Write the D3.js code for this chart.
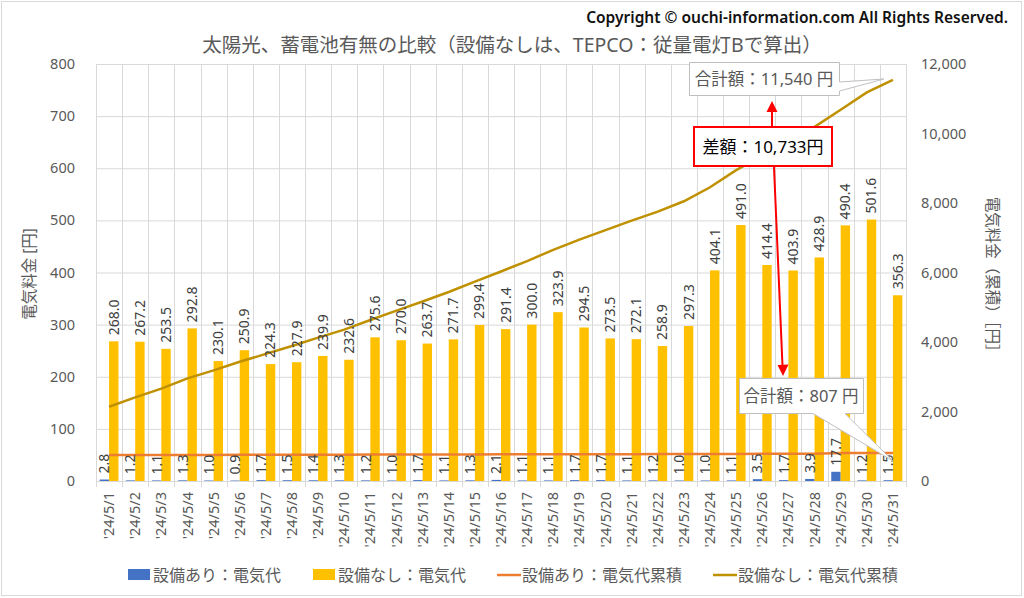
<!DOCTYPE html>
<html><head><meta charset="utf-8">
<script src="https://cdn.jsdelivr.net/npm/d3@7"></script>
<style>
html,body{margin:0;padding:0;background:#fff;}
svg{display:block;font-family:"Noto Sans","Noto Sans CJK JP",sans-serif;}
</style></head>
<body>
<svg id="c" width="1024" height="598"></svg>
<script>
const dates = ["'24/5/1","'24/5/2","'24/5/3","'24/5/4","'24/5/5","'24/5/6","'24/5/7","'24/5/8","'24/5/9","'24/5/10","'24/5/11","'24/5/12","'24/5/13","'24/5/14","'24/5/15","'24/5/16","'24/5/17","'24/5/18","'24/5/19","'24/5/20","'24/5/21","'24/5/22","'24/5/23","'24/5/24","'24/5/25","'24/5/26","'24/5/27","'24/5/28","'24/5/29","'24/5/30","'24/5/31"];
const withCost = [2.8,1.2,1.1,1.3,1.0,0.9,1.7,1.5,1.4,1.3,1.2,1.0,1.7,1.1,1.3,2.1,1.1,1.1,1.7,1.7,1.1,1.2,1.0,1.0,1.1,3.5,1.7,3.9,17.7,1.2,1.5];
const withoutCost = [268.0,267.2,253.5,292.8,230.1,250.9,224.3,227.9,239.9,232.6,275.6,270.0,263.7,271.7,299.4,291.4,300.0,323.9,294.5,273.5,272.1,258.9,297.3,404.1,491.0,414.4,403.9,428.9,490.4,501.6,356.3];
const withCum = [746.7,747.9,749.0,750.3,751.3,752.2,753.9,755.4,756.8,758.1,759.3,760.3,762.0,763.1,764.4,766.5,767.6,768.7,770.4,772.1,773.2,774.4,775.4,776.4,777.5,781.0,782.7,786.6,804.3,805.5,807.0];
const withoutCum = [2138.2,2405.4,2658.9,2951.7,3181.8,3432.7,3657.0,3884.9,4124.8,4357.4,4633.0,4903.0,5166.7,5438.4,5737.8,6029.2,6329.2,6653.1,6947.6,7221.1,7493.2,7752.1,8049.4,8453.5,8944.5,9358.9,9762.8,10191.7,10682.1,11183.7,11540.0];
const leftTicks = [0,100,200,300,400,500,600,700,800];
const rightTicks = [0,2000,4000,6000,8000,10000,12000];
const seriesNames = ["設備あり：電気代","設備なし：電気代","設備あり：電気代累積","設備なし：電気代累積"];
const titleText = "太陽光、蓄電池有無の比較（設備なしは、TEPCO：従量電灯Bで算出）";
const copyrightText = "Copyright © ouchi-information.com All Rights Reserved.";
const totalWith = 807, totalWithout = 11540, diffTotal = 10733;

const svg = d3.select("#c");
const L = 96, R = 906, T = 64, B = 481;
const x = d3.scaleBand().domain(dates).range([L, R]).padding(0);
const yL = d3.scaleLinear().domain([0, 800]).range([B, T]);
const yR = d3.scaleLinear().domain([0, 12000]).range([B, T]);
const bw = x.bandwidth() * 0.36;
const cx = d => x(d) + x.bandwidth() / 2;

// outer border
svg.append("rect").attr("x",1.5).attr("y",1.5).attr("width",1020).attr("height",594)
  .attr("fill","#fff").attr("stroke","#d9d9d9").attr("stroke-width",1);

// copyright
svg.append("text").attr("x",1008).attr("y",23).attr("text-anchor","end")
  .attr("font-size",15.5).attr("font-weight",600).attr("fill","#111")
  .text(copyrightText);
// title
svg.append("text").attr("x",512).attr("y",52).attr("text-anchor","middle")
  .attr("font-size",19.5).attr("fill","#595959").text(titleText);

// gridlines
svg.append("g").selectAll("line").data(leftTicks).join("line")
  .attr("x1",L).attr("x2",R).attr("y1",d=>yL(d)+0.5).attr("y2",d=>yL(d)+0.5)
  .attr("stroke","#d9d9d9").attr("stroke-width",1);
const bounds = dates.map(d=>x(d)).concat([R]);
svg.append("g").selectAll("line").data(bounds).join("line")
  .attr("x1",d=>Math.round(d)+0.5).attr("x2",d=>Math.round(d)+0.5).attr("y1",T).attr("y2",B)
  .attr("stroke","#d9d9d9").attr("stroke-width",1);
// bottom axis line + ticks
svg.append("line").attr("x1",L).attr("x2",R).attr("y1",B+0.5).attr("y2",B+0.5).attr("stroke","#d9d9d9");
svg.append("g").selectAll("line").data(bounds).join("line")
  .attr("x1",d=>Math.round(d)+0.5).attr("x2",d=>Math.round(d)+0.5).attr("y1",B).attr("y2",B+6)
  .attr("stroke","#d9d9d9");

// axes labels
svg.append("g").selectAll("text").data(leftTicks).join("text")
  .attr("x",75).attr("y",d=>yL(d)).attr("dy","0.35em").attr("text-anchor","end")
  .attr("font-size",14.5).attr("fill","#595959").text(d=>d);
svg.append("g").selectAll("text").data(rightTicks).join("text")
  .attr("x",921).attr("y",d=>yR(d)).attr("dy","0.35em").attr("text-anchor","start")
  .attr("font-size",14.5).attr("fill","#595959").text(d=>d3.format(",")(d));
svg.append("g").selectAll("text").data(dates).join("text")
  .attr("transform",d=>`translate(${cx(d)},492) rotate(-90)`).attr("dy","0.35em")
  .attr("text-anchor","end").attr("font-size",14.5).attr("fill","#595959").text(d=>d);
svg.append("text").attr("transform","translate(30,274) rotate(-90)").attr("dy","0.35em")
  .attr("text-anchor","middle").attr("font-size",15.5).attr("fill","#595959").text("電気料金 [円]");
svg.append("text").attr("transform","translate(992,278) rotate(90)").attr("dy","0.35em")
  .attr("text-anchor","middle").attr("font-size",15.5).attr("fill","#595959").text("電気料金（累積）［円］");

// bars
svg.append("g").selectAll("rect").data(dates).join("rect")
  .attr("x",(d)=>cx(d)-bw).attr("width",bw)
  .attr("y",(d,i)=>yL(withCost[i])).attr("height",(d,i)=>B-yL(withCost[i]))
  .attr("fill","#4472C4");
svg.append("g").selectAll("rect").data(dates).join("rect")
  .attr("x",(d)=>cx(d)).attr("width",bw)
  .attr("y",(d,i)=>yL(withoutCost[i])).attr("height",(d,i)=>B-yL(withoutCost[i]))
  .attr("fill","#FFC000");

// lines
const line = d3.line().x((d,i)=>cx(dates[i])).y(d=>yR(d));
svg.append("path").attr("d",line(withCum)).attr("fill","none").attr("stroke","#ED7D31").attr("stroke-width",2.5);
svg.append("path").attr("d",line(withoutCum)).attr("fill","none").attr("stroke","#BF9000").attr("stroke-width",2.5);

// data labels
svg.append("g").selectAll("text").data(dates).join("text")
  .attr("transform",(d,i)=>`translate(${cx(d)-bw/2},${yL(withCost[i])-6}) rotate(-90)`)
  .attr("dy","0.35em").attr("font-size",14).attr("fill","#404040").text((d,i)=>withCost[i].toFixed(1));
svg.append("g").selectAll("text").data(dates).join("text")
  .attr("transform",(d,i)=>`translate(${cx(d)+bw/2},${yL(withoutCost[i])-6}) rotate(-90)`)
  .attr("dy","0.35em").attr("font-size",14).attr("fill","#404040").text((d,i)=>withoutCost[i].toFixed(1));

// callout 1 (total without)
const tip1x = cx(dates[dates.length-1]) - 9, tip1y = yR(totalWithout) - 1;
svg.append("path").attr("d",`M689.5,62.5 H839.5 V82 L${tip1x},${tip1y} L839.5,91 V95.5 H689.5 Z`)
  .attr("fill","#fff").attr("stroke","#bfbfbf").attr("stroke-width",1);
svg.append("text").attr("x",764).attr("y",79).attr("dy","0.35em").attr("text-anchor","middle")
  .attr("font-size",16.5).attr("fill","#595959").text(`合計額：${d3.format(",")(totalWithout)} 円`);

// callout 3 (total with)
const tip3x = cx(dates[dates.length-1]), tip3y = yR(totalWith) + 8;
svg.append("path").attr("d",`M739.5,378.5 H863.5 V413.5 H845 L${tip3x},${tip3y} L813,413.5 H739.5 Z`)
  .attr("fill","#fff").attr("stroke","#bfbfbf").attr("stroke-width",1);
svg.append("text").attr("x",801).attr("y",396).attr("dy","0.35em").attr("text-anchor","middle")
  .attr("font-size",16.5).attr("fill","#595959").text(`合計額：${totalWith} 円`);

// arrows
svg.append("line").attr("x1",772).attr("y1",127).attr("x2",772).attr("y2",110).attr("stroke","#FF0000").attr("stroke-width",2);
svg.append("path").attr("d","M772,101 L766.5,112 L777.5,112 Z").attr("fill","#FF0000");
svg.append("line").attr("x1",774).attr("y1",167).attr("x2",782.5).attr("y2",366).attr("stroke","#FF0000").attr("stroke-width",2);
svg.append("path").attr("d","M783,376 L777.5,365 L788.5,364.6 Z").attr("fill","#FF0000");

// diff box
svg.append("rect").attr("x",694).attr("y",127).attr("width",138).attr("height",39)
  .attr("fill","#fff").attr("stroke","#FF0000").attr("stroke-width",2);
svg.append("text").attr("x",763).attr("y",147).attr("dy","0.35em").attr("text-anchor","middle")
  .attr("font-size",17).attr("fill","#000").text(`差額：${d3.format(",")(diffTotal)}円`);

// legend
const lg = svg.append("g");
const items = [
  {type:"rect",color:"#4472C4",x:128,name:seriesNames[0]},
  {type:"rect",color:"#FFC000",x:313,name:seriesNames[1]},
  {type:"line",color:"#ED7D31",x:497,name:seriesNames[2]},
  {type:"line",color:"#BF9000",x:713,name:seriesNames[3]}
];
items.forEach(it=>{
  if(it.type==="rect") lg.append("rect").attr("x",it.x).attr("y",569).attr("width",22).attr("height",11).attr("fill",it.color);
  else lg.append("line").attr("x1",it.x).attr("x2",it.x+24).attr("y1",575).attr("y2",575).attr("stroke",it.color).attr("stroke-width",2.5);
  lg.append("text").attr("x",it.x+25).attr("y",575).attr("dy","0.35em").attr("font-size",16)
    .attr("fill","#595959").text(it.name);
});
</script>
</body></html>
